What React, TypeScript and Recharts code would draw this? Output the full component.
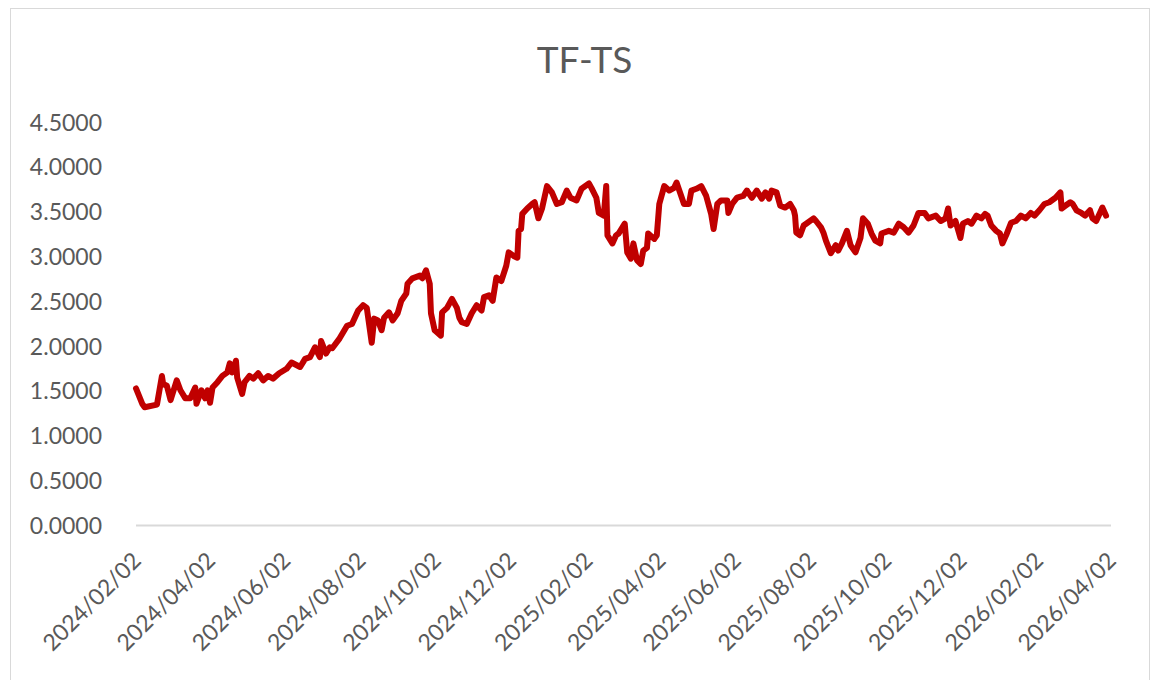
import { Line, LineChart, XAxis, YAxis } from 'recharts';

// TF-TS spread
const dates = [
  '2024/02/02', '2024/02/07', '2024/02/09', '2024/02/19', '2024/02/23', '2024/02/24', '2024/02/27',
  '2024/03/01', '2024/03/06', '2024/03/09', '2024/03/13', '2024/03/17', '2024/03/21', '2024/03/22',
  '2024/03/26', '2024/03/29', '2024/03/31', '2024/04/02', '2024/04/04', '2024/04/08', '2024/04/12',
  '2024/04/16', '2024/04/18', '2024/04/20', '2024/04/23', '2024/04/24', '2024/04/28', '2024/04/30',
  '2024/05/04', '2024/05/07', '2024/05/11', '2024/05/15', '2024/05/19', '2024/05/23', '2024/05/28',
  '2024/06/03', '2024/06/07', '2024/06/14', '2024/06/18', '2024/06/22', '2024/06/26', '2024/06/30',
  '2024/07/01', '2024/07/05', '2024/07/08', '2024/07/10', '2024/07/16', '2024/07/22', '2024/07/26',
  '2024/07/31', '2024/08/04', '2024/08/07', '2024/08/11', '2024/08/13', '2024/08/16', '2024/08/19',
  '2024/08/21', '2024/08/25', '2024/08/28', '2024/09/01', '2024/09/04', '2024/09/08', '2024/09/09',
  '2024/09/13', '2024/09/19', '2024/09/21', '2024/09/24', '2024/09/27', '2024/09/28', '2024/10/01',
  '2024/10/06', '2024/10/07', '2024/10/11', '2024/10/15', '2024/10/19', '2024/10/21', '2024/10/23',
  '2024/10/27', '2024/10/31', '2024/11/04', '2024/11/08', '2024/11/10', '2024/11/14', '2024/11/17',
  '2024/11/20', '2024/11/24', '2024/11/28', '2024/11/30', '2024/12/04', '2024/12/07', '2024/12/08',
  '2024/12/10', '2024/12/11', '2024/12/15', '2024/12/19', '2024/12/21', '2024/12/24', '2024/12/27',
  '2024/12/31', '2025/01/04', '2025/01/08', '2025/01/12', '2025/01/16', '2025/01/19', '2025/01/24',
  '2025/01/28', '2025/02/03', '2025/02/05', '2025/02/09', '2025/02/11', '2025/02/15', '2025/02/17',
  '2025/02/18', '2025/02/22', '2025/02/25', '2025/02/27', '2025/03/04', '2025/03/06', '2025/03/09',
  '2025/03/11', '2025/03/14', '2025/03/17', '2025/03/19', '2025/03/22', '2025/03/23', '2025/03/28',
  '2025/03/30', '2025/04/01', '2025/04/05', '2025/04/09', '2025/04/13', '2025/04/15', '2025/04/18',
  '2025/04/21', '2025/04/25', '2025/04/27', '2025/05/01', '2025/05/05', '2025/05/09', '2025/05/13',
  '2025/05/15', '2025/05/18', '2025/05/21', '2025/05/26', '2025/05/27', '2025/05/30', '2025/06/03',
  '2025/06/08', '2025/06/11', '2025/06/12', '2025/06/15', '2025/06/19', '2025/06/23', '2025/06/26',
  '2025/06/29', '2025/07/01', '2025/07/05', '2025/07/08', '2025/07/12', '2025/07/16', '2025/07/19',
  '2025/07/20', '2025/07/21', '2025/07/24', '2025/07/27', '2025/07/29', '2025/08/04', '2025/08/06',
  '2025/08/10', '2025/08/12', '2025/08/14', '2025/08/18', '2025/08/22', '2025/08/24', '2025/08/27',
  '2025/08/31', '2025/09/03', '2025/09/07', '2025/09/11', '2025/09/13', '2025/09/17', '2025/09/20',
  '2025/09/23', '2025/09/27', '2025/09/28', '2025/10/04', '2025/10/08', '2025/10/12', '2025/10/16',
  '2025/10/20', '2025/10/24', '2025/10/28', '2025/11/02', '2025/11/05', '2025/11/11', '2025/11/15',
  '2025/11/19', '2025/11/21', '2025/11/23', '2025/11/27', '2025/12/01', '2025/12/03', '2025/12/07',
  '2025/12/10', '2025/12/14', '2025/12/18', '2025/12/21', '2025/12/23', '2025/12/26', '2025/12/30',
  '2026/01/02', '2026/01/04', '2026/01/07', '2026/01/11', '2026/01/15', '2026/01/19', '2026/01/23',
  '2026/01/27', '2026/01/30', '2026/02/03', '2026/02/07', '2026/02/11', '2026/02/16', '2026/02/20',
  '2026/02/21', '2026/02/24', '2026/02/28', '2026/03/02', '2026/03/05', '2026/03/09', '2026/03/12',
  '2026/03/16', '2026/03/18', '2026/03/21', '2026/03/24', '2026/03/26', '2026/03/29',
];

const spread = [
  1.53, 1.36, 1.32, 1.35, 1.67, 1.58, 1.56,
  1.40, 1.62, 1.51, 1.42, 1.42, 1.54, 1.36,
  1.51, 1.42, 1.51, 1.37, 1.54, 1.60, 1.67,
  1.71, 1.81, 1.71, 1.84, 1.65, 1.47, 1.60,
  1.67, 1.64, 1.70, 1.62, 1.67, 1.64, 1.70,
  1.75, 1.82, 1.77, 1.86, 1.88, 1.99, 1.88,
  2.06, 1.92, 1.99, 1.98, 2.09, 2.23, 2.25,
  2.40, 2.46, 2.43, 2.04, 2.31, 2.29, 2.18,
  2.32, 2.38, 2.29, 2.37, 2.51, 2.59, 2.70,
  2.76, 2.79, 2.76, 2.85, 2.70, 2.37, 2.18,
  2.12, 2.38, 2.43, 2.53, 2.43, 2.32, 2.27,
  2.25, 2.37, 2.46, 2.40, 2.55, 2.57, 2.51,
  2.77, 2.73, 2.90, 3.05, 3.01, 2.99, 3.29,
  3.31, 3.48, 3.54, 3.59, 3.61, 3.43, 3.54,
  3.79, 3.72, 3.59, 3.61, 3.74, 3.66, 3.63,
  3.76, 3.82, 3.77, 3.66, 3.49, 3.46, 3.79,
  3.24, 3.15, 3.24, 3.26, 3.37, 3.05, 2.98,
  3.15, 2.96, 2.92, 3.07, 3.10, 3.26, 3.20,
  3.24, 3.59, 3.79, 3.74, 3.77, 3.83, 3.71,
  3.59, 3.59, 3.74, 3.76, 3.79, 3.68, 3.48,
  3.31, 3.59, 3.63, 3.63, 3.49, 3.59, 3.66,
  3.68, 3.74, 3.72, 3.66, 3.74, 3.65, 3.72,
  3.65, 3.74, 3.72, 3.57, 3.55, 3.59, 3.52,
  3.46, 3.27, 3.24, 3.35, 3.37, 3.43, 3.40,
  3.33, 3.27, 3.18, 3.04, 3.13, 3.07, 3.15,
  3.29, 3.13, 3.05, 3.21, 3.43, 3.37, 3.26,
  3.18, 3.15, 3.26, 3.29, 3.27, 3.37, 3.33,
  3.27, 3.35, 3.49, 3.49, 3.43, 3.46, 3.40,
  3.43, 3.54, 3.35, 3.40, 3.21, 3.37, 3.40,
  3.37, 3.46, 3.43, 3.48, 3.46, 3.35, 3.29,
  3.26, 3.15, 3.24, 3.38, 3.40, 3.46, 3.43,
  3.49, 3.46, 3.52, 3.59, 3.61, 3.66, 3.72,
  3.54, 3.57, 3.61, 3.59, 3.52, 3.49, 3.46,
  3.52, 3.43, 3.40, 3.49, 3.55, 3.46,
];

const tickDates = [
  '2024/02/02', '2024/04/02', '2024/06/02', '2024/08/02', '2024/10/02', '2024/12/02', '2025/02/02',
  '2025/04/02', '2025/06/02', '2025/08/02', '2025/10/02', '2025/12/02', '2026/02/02', '2026/04/02',
];

const yTicks = [0, 0.5, 1, 1.5, 2, 2.5, 3, 3.5, 4, 4.5];

const toTime = (s: string) => {
  const [y, m, d] = s.split('/').map(Number);
  return Date.UTC(y, m - 1, d);
};

const fmtDate = (t: number) => {
  const d = new Date(t);
  const mm = String(d.getUTCMonth() + 1).padStart(2, '0');
  const dd = String(d.getUTCDate()).padStart(2, '0');
  return `${d.getUTCFullYear()}/${mm}/${dd}`;
};

const data = dates.map((s, i) => ({ t: toTime(s), v: spread[i] }));
const xTicks = tickDates.map(toTime);

const TEXT = '#595959';
const FONT = 'Lato, "Open Sans", sans-serif';
const tickStyle = { fill: TEXT, fontSize: 23, fontFamily: FONT };

export default function App() {
  return (
    <div
      style={{
        position: 'fixed',
        left: 0,
        top: 0,
        width: 1158,
        height: 680,
        overflow: 'hidden',
        background: '#fff',
        fontFamily: FONT,
      }}
    >
      <div
        style={{
          position: 'absolute',
          left: 10,
          top: 8,
          width: 1140,
          height: 700,
          border: '1.5px solid #D9D9D9',
          boxSizing: 'border-box',
        }}
      />
      <div
        style={{
          position: 'absolute',
          left: 0,
          top: 40,
          width: 1169,
          textAlign: 'center',
          fontSize: 37,
          lineHeight: '37px',
          color: TEXT,
        }}
      >
        TF-TS
      </div>
      <div style={{ position: 'absolute', left: 0, top: 0 }}>
        <LineChart
          width={1158}
          height={680}
          data={data}
          margin={{ top: 122.5, right: 47, bottom: 0, left: 0 }}
        >
          <XAxis
            dataKey="t"
            type="number"
            domain={[xTicks[0], xTicks[xTicks.length - 1]]}
            ticks={xTicks}
            interval={0}
            tickFormatter={fmtDate}
            angle={-45}
            textAnchor="end"
            tick={{ ...tickStyle, dx: -5 }}
            tickLine={false}
            tickSize={0}
            tickMargin={25}
            axisLine={{ stroke: '#D9D9D9', strokeWidth: 2 }}
            height={154.5}
          />
          <YAxis
            type="number"
            domain={[0, 4.5]}
            ticks={yTicks}
            interval={0}
            tickFormatter={(v: number) => v.toFixed(4)}
            tick={tickStyle}
            tickLine={false}
            tickSize={0}
            tickMargin={34}
            axisLine={false}
            width={136}
          />
          <Line
            type="linear"
            dataKey="v"
            stroke="#C00000"
            strokeWidth={6}
            strokeLinejoin="round"
            strokeLinecap="round"
            dot={false}
            activeDot={false}
            isAnimationActive={false}
          />
        </LineChart>
      </div>
    </div>
  );
}
